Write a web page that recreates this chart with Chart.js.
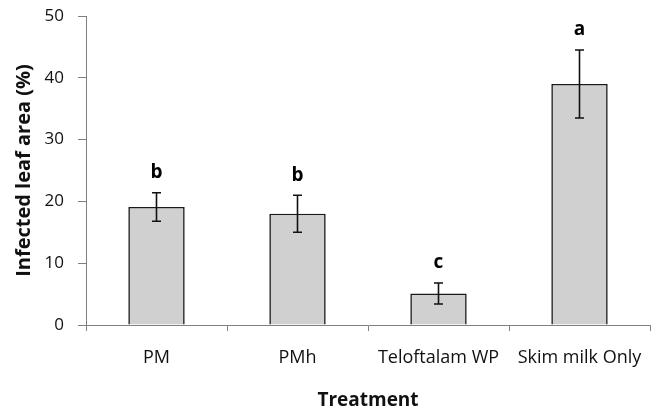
<!DOCTYPE html>
<html>
<head>
<meta charset="utf-8">
<script src="https://cdn.jsdelivr.net/npm/chart.js@4"></script>
<style>
  html, body { margin: 0; padding: 0; background: #fff; }
  #wrap { width: 661px; height: 410px; }
</style>
</head>
<body>
<div id="wrap"><canvas id="chart" width="661" height="410"></canvas></div>
<script>
const treatments = ['PM', 'PMh', 'Teloftalam WP', 'Skim milk Only'];
const infectedArea = [19.1, 18.0, 5.1, 39.0];
const errorSizes = [2.3, 3.0, 1.7, 5.5];
const groupLetters = ['b', 'b', 'c', 'a'];
const yTicks = [0, 10, 20, 30, 40, 50];

const fontFamily = '"Open Sans", "Noto Sans", sans-serif';

// error bars + significance letters, placed with the chart's own scales
const errorBarPlugin = {
  id: 'errorBars',
  afterDatasetsDraw(chart) {
    const { ctx, scales: { y } } = chart;
    const meta = chart.getDatasetMeta(0);
    ctx.save();
    ctx.strokeStyle = '#111';
    ctx.lineWidth = 1.6;
    meta.data.forEach((bar, i) => {
      const top = y.getPixelForValue(infectedArea[i] + errorSizes[i]);
      const bottom = y.getPixelForValue(infectedArea[i] - errorSizes[i]);
      ctx.beginPath();
      ctx.moveTo(bar.x, top);
      ctx.lineTo(bar.x, bottom);
      ctx.moveTo(bar.x - 4.5, top);
      ctx.lineTo(bar.x + 4.5, top);
      ctx.moveTo(bar.x - 4.5, bottom);
      ctx.lineTo(bar.x + 4.5, bottom);
      ctx.stroke();

      ctx.fillStyle = '#000';
      ctx.font = `bold 19px ${fontFamily}`;
      ctx.textAlign = 'center';
      ctx.textBaseline = 'middle';
      ctx.fillText(groupLetters[i], bar.x, top - 20);
    });
    ctx.restore();
  }
};

new Chart(document.getElementById('chart'), {
  type: 'bar',
  data: {
    labels: treatments,
    datasets: [{
      data: infectedArea,
      backgroundColor: '#d0d0d0',
      borderColor: '#1a1a1a',
      borderWidth: 1.6,
      barPercentage: 0.40,
      categoryPercentage: 1
    }]
  },
  options: {
    responsive: false,
    animation: false,
    layout: { padding: { top: 16, right: 11, left: 0, bottom: 0 } },
    plugins: { legend: { display: false }, tooltip: { enabled: false } },
    scales: {
      x: {
        afterFit(scale) {
          scale.height = 85;
          scale.paddingLeft = 0;
          scale.paddingRight = 0;
        },
        grid: {
          offset: true,
          drawOnChartArea: false,
          drawTicks: true,
          tickLength: 6,
          color: '#808080'
        },
        border: { color: '#808080', width: 1 },
        ticks: { color: '#111', font: { family: fontFamily, size: 18 }, padding: 16, maxRotation: 0 },
        title: {
          display: true,
          text: 'Treatment',
          color: '#111',
          font: { family: fontFamily, size: 19, weight: 'bold' },
          padding: { top: 0, bottom: -2 }
        }
      },
      y: {
        min: 0,
        max: 50,
        afterFit(scale) {
          scale.width = 86;
          scale.paddingTop = 0;
          scale.paddingBottom = 0;
        },
        afterBuildTicks(scale) { scale.ticks = yTicks.map((v) => ({ value: v })); },
        grid: { drawOnChartArea: false, tickLength: 8, color: '#808080' },
        border: { color: '#808080', width: 1 },
        ticks: { color: '#111', font: { family: fontFamily, size: 17 }, padding: 14 },
        title: {
          display: true,
          text: 'Infected leaf area (%)',
          color: '#111',
          font: { family: fontFamily, size: 20, weight: 'bold' },
          padding: { top: 12, bottom: 0 }
        }
      }
    }
  },
  plugins: [errorBarPlugin]
});
</script>
</body>
</html>
